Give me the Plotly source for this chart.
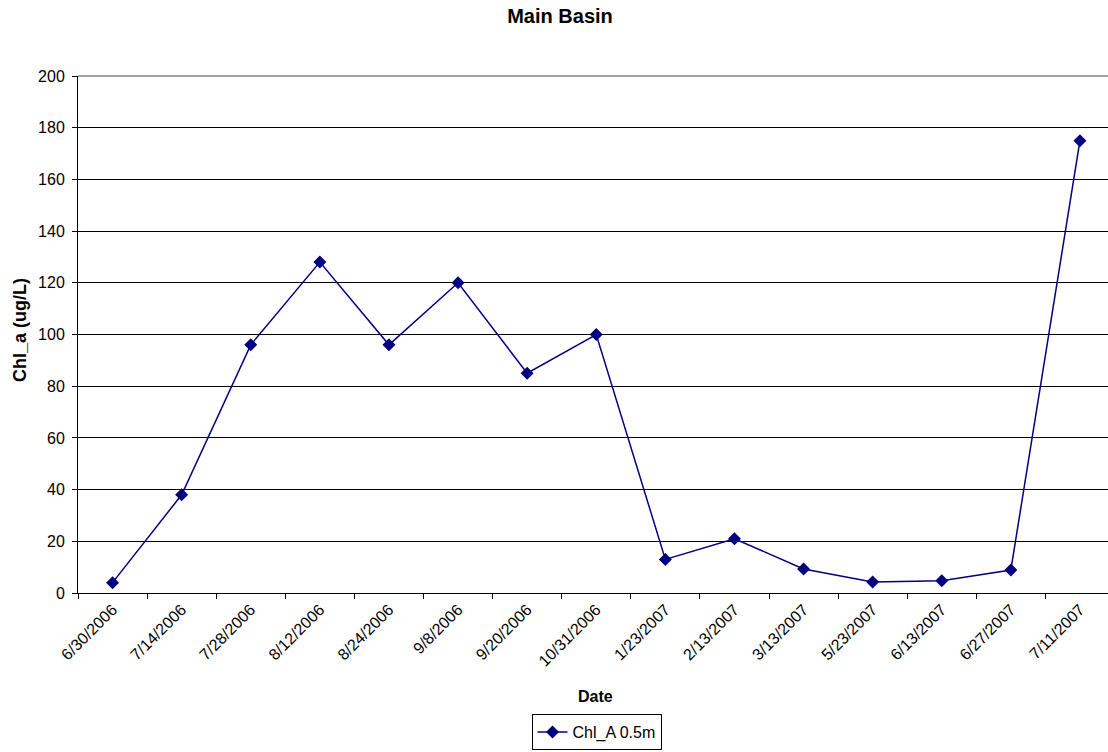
import plotly.graph_objects as go

# Sampling dates (category axis) and chlorophyll-a at 0.5 m
dates = ["6/30/2006", "7/14/2006", "7/28/2006", "8/12/2006", "8/24/2006",
         "9/8/2006", "9/20/2006", "10/31/2006", "1/23/2007", "2/13/2007",
         "3/13/2007", "5/23/2007", "6/13/2007", "6/27/2007", "7/11/2007"]
chl_a = [4, 38, 96, 128, 96, 120, 85, 100, 13, 21, 9.3, 4.3, 4.7, 8.9, 175]

y_ticks = list(range(0, 201, 20))

FONT = "Arial, Liberation Sans, sans-serif"
NAVY = "#000080"

# plot area in pixels
W, H = 1108, 752
L, T, B = 78, 76, 593
PW, PH = W - L, B - T

fig = go.Figure()
fig.add_trace(go.Scatter(
    x=dates, y=chl_a, name="Chl_A 0.5m",
    mode="lines+markers",
    line=dict(color=NAVY, width=1.5),
    marker=dict(symbol="diamond", size=10, color=NAVY),
))

fig.update_layout(
    width=W, height=H,
    margin=dict(l=L, r=0, t=T, b=H - B, autoexpand=False),
    paper_bgcolor="white", plot_bgcolor="white",
    font=dict(family=FONT, size=16, color="black"),
    title=dict(text="<b>Main Basin</b>", x=560 / W, xanchor="center",
               y=1 - 16 / H, yanchor="middle",
               font=dict(family=FONT, size=20, color="black")),
    showlegend=True,
    legend=dict(x=(596.5 - L) / PW, xanchor="center",
                y=-(750 - B) / PH, yanchor="bottom",
                bordercolor="black", borderwidth=1, bgcolor="white",
                font=dict(family=FONT, size=16),
                itemwidth=30, tracegroupgap=0),
)

fig.update_xaxes(
    type="category", categoryorder="array", categoryarray=dates,
    range=[-0.5, 14.5 - 6.5 / 69.1],
    tickson="boundaries", ticks="outside", ticklen=5, tickcolor="black",
    tickangle=-45, tickfont=dict(family=FONT, size=16),
    showline=True, linecolor="black", linewidth=1,
    showgrid=False, zeroline=False, automargin=False,
)
fig.update_yaxes(
    range=[0, 200], tickvals=y_ticks,
    ticks="outside", ticklen=5, tickcolor="black",
    tickfont=dict(family=FONT, size=16),
    ticklabelstandoff=4,
    showline=True, linecolor="black", linewidth=1,
    showgrid=True, gridcolor="black", gridwidth=1,
    zeroline=False, automargin=False,
)

# gray plot-area border along the top
fig.add_shape(type="line", xref="paper", yref="paper", x0=0, x1=1, y0=1, y1=1,
              line=dict(color="#808080", width=1.5))

# axis titles
fig.add_annotation(text="<b>Date</b>", xref="paper", yref="paper",
                   x=(595 - L) / PW, y=-(696 - B) / PH,
                   xanchor="center", yanchor="middle", showarrow=False,
                   font=dict(family=FONT, size=16))
fig.add_annotation(text="<b>Chl_a (ug/L)</b>", xref="paper", yref="paper",
                   x=-(L - 20) / PW, y=(B - 330) / PH, textangle=-90,
                   xanchor="center", yanchor="middle", showarrow=False,
                   font=dict(family=FONT, size=18))

fig.write_html("out.html")
